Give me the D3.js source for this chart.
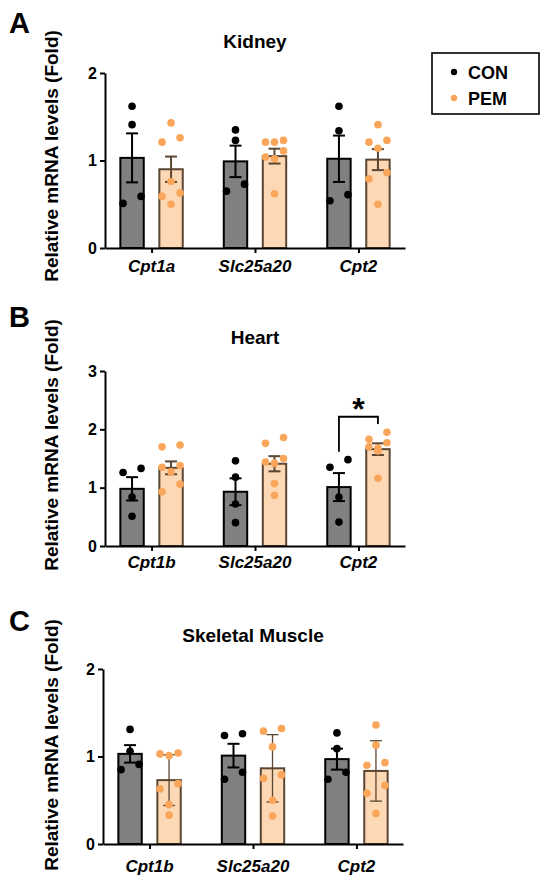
<!DOCTYPE html>
<html>
<head>
<meta charset="utf-8">
<script src="https://cdn.jsdelivr.net/npm/d3@7"></script>
<style>
  body { margin: 0; background: #fff; }
  text { font-family: Arial, "Liberation Sans", sans-serif; font-weight: bold; }
</style>
</head>
<body>
<div id="chart"></div>
<script>
// ---- data ----
var groups = ["CON", "PEM"];
var genesKidney = ["Cpt1a", "Slc25a20", "Cpt2"];
var genesOther = ["Cpt1b", "Slc25a20", "Cpt2"];

var kidneyConMean = [1.03, 0.99, 1.02];
var kidneyConErr  = [0.28, 0.18, 0.265];
var kidneyPemMean = [0.90, 1.05, 1.01];
var kidneyPemErr  = [0.145, 0.085, 0.12];
var kidneyConPts = [[1.62, 1.41, 0.59, 0.51], [1.35, 1.23, 0.73, 0.65], [1.62, 1.34, 0.61, 0.54]];
var kidneyPemPts = [[1.43, 1.26, 1.21, 0.76, 0.63, 0.59, 0.50],
                    [1.23, 1.21, 1.21, 1.11, 1.04, 1.02, 0.62],
                    [1.41, 1.23, 1.21, 1.14, 0.86, 0.79, 0.50]];

var heartConMean = [0.98, 0.93, 1.01];
var heartConErr  = [0.20, 0.23, 0.24];
var heartPemMean = [1.34, 1.41, 1.66];
var heartPemErr  = [0.11, 0.13, 0.10];
var heartConPts = [[1.33, 1.26, 0.84, 0.51], [1.46, 1.18, 0.72, 0.40], [1.48, 1.35, 0.84, 0.41]];
var heartPemPts = [[1.73, 1.70, 1.38, 1.35, 1.27, 1.06, 0.93],
                   [1.86, 1.76, 1.50, 1.44, 1.42, 1.07, 0.87],
                   [1.95, 1.83, 1.77, 1.70, 1.68, 1.63, 1.16]];

var muscleConMean = [1.03, 1.01, 0.97];
var muscleConErr  = [0.10, 0.135, 0.12];
var musclePemMean = [0.73, 0.865, 0.835];
var musclePemErr  = [0.29, 0.385, 0.345];
var muscleConPts = [[1.31, 1.06, 0.91, 0.85], [1.26, 1.24, 0.82, 0.74], [1.27, 1.09, 0.82, 0.74]];
var musclePemPts = [[1.04, 1.03, 1.01, 0.69, 0.63, 0.45, 0.33],
                    [1.32, 1.29, 1.11, 0.79, 0.75, 0.50, 0.32],
                    [1.36, 1.13, 0.93, 0.90, 0.67, 0.58, 0.35]];

// significance bracket on heart Cpt2 (data units)
var sigLeft = 1.615, sigTop = 2.216, sigRight = 2.09;

// ---- styles ----
var conFill = "#808080", conLine = "#000000", conDot = "#000000";
var pemFill = "#FDD8B5", pemLine = "#5A4632", pemDot = "#F9A65B";

var panels = [
  {letter: "A", title: "Kidney", genes: genesKidney, ymax: 2,
   mean: [kidneyConMean, kidneyPemMean], err: [kidneyConErr, kidneyPemErr], pts: [kidneyConPts, kidneyPemPts],
   left: 105, top: 73, letterY: 33, titleY: 48, geneY: 272, labelY: 156, pemErrW: 2},
  {letter: "B", title: "Heart", genes: genesOther, ymax: 3,
   mean: [heartConMean, heartPemMean], err: [heartConErr, heartPemErr], pts: [heartConPts, heartPemPts],
   left: 105, top: 371, letterY: 327, titleY: 344, geneY: 568, labelY: 445, pemErrW: 2, sig: true},
  {letter: "C", title: "Skeletal Muscle", genes: genesOther, ymax: 2,
   mean: [muscleConMean, musclePemMean], err: [muscleConErr, musclePemErr], pts: [muscleConPts, musclePemPts],
   left: 103, top: 669, letterY: 631, titleY: 642, geneY: 872, labelY: 745, pemErrW: 1.3}
];

var plotW = 300, plotH = 175;

var svg = d3.select("#chart")
  .append("svg")
    .attr("width", 550)
    .attr("height", 886);

// spread points of a column the way prism does: rows of up to 3
function swarm(values, y) {
  var sorted = values.slice().sort(function (a, b) { return b - a; });
  var rows = [];
  sorted.forEach(function (v) {
    var last = rows[rows.length - 1];
    if (last && last.length < 3 && y(v) - y(last[0]) < 8) last.push(v);
    else rows.push([v]);
  });
  var pattern = {1: [0], 2: [1, -1], 3: [1, -1, 0]};
  var out = [];
  rows.forEach(function (r) {
    r.forEach(function (v, i) { out.push({v: v, dx: pattern[r.length][i] * 9}); });
  });
  return out;
}

panels.forEach(function (p) {
  var g = svg.append("g");

  var x = d3.scalePoint()
    .domain(p.genes)
    .range([p.left, p.left + plotW])
    .padding(0.45);
  var xSub = d3.scaleBand()
    .domain(groups)
    .range([-39, 39])
    .paddingInner(0.4)
    .paddingOuter(0.2);
  var y = d3.scaleLinear()
    .domain([0, p.ymax])
    .range([p.top + plotH, p.top]);

  // bars
  groups.forEach(function (grp, gi) {
    g.selectAll(".bar-" + grp)
      .data(p.genes)
      .enter().append("rect")
        .attr("x", function (d) { return x(d) + xSub(grp); })
        .attr("width", xSub.bandwidth())
        .attr("y", function (d, i) { return y(p.mean[gi][i]); })
        .attr("height", function (d, i) { return y(0) - y(p.mean[gi][i]); })
        .attr("fill", gi === 0 ? conFill : pemFill)
        .attr("stroke", gi === 0 ? conLine : pemLine)
        .attr("stroke-width", 2);
  });

  // error bars
  groups.forEach(function (grp, gi) {
    var col = gi === 0 ? conLine : pemLine;
    var lw = gi === 0 ? 2 : p.pemErrW;
    p.genes.forEach(function (gene, i) {
      var cx = x(gene) + xSub(grp) + xSub.bandwidth() / 2;
      var m = p.mean[gi][i], e = p.err[gi][i];
      g.append("line")
        .attr("x1", cx).attr("x2", cx)
        .attr("y1", y(m - e)).attr("y2", y(m + e))
        .attr("stroke", col).attr("stroke-width", lw);
      [m - e, m + e].forEach(function (v) {
        g.append("line")
          .attr("x1", cx - 6).attr("x2", cx + 6)
          .attr("y1", y(v)).attr("y2", y(v))
          .attr("stroke", col).attr("stroke-width", lw);
      });
    });
  });

  // individual points
  groups.forEach(function (grp, gi) {
    p.genes.forEach(function (gene, i) {
      var cx = x(gene) + xSub(grp) + xSub.bandwidth() / 2;
      g.selectAll(null)
        .data(swarm(p.pts[gi][i], y))
        .enter().append("circle")
          .attr("cx", function (d) { return cx + d.dx; })
          .attr("cy", function (d) { return y(d.v); })
          .attr("r", 3.8)
          .attr("fill", gi === 0 ? conDot : pemDot);
    });
  });

  // axes
  var yAxis = g.append("g")
    .attr("transform", "translate(" + p.left + ",0)")
    .call(d3.axisLeft(y).ticks(p.ymax).tickFormat(d3.format("d"))
      .tickSize(5).tickSizeOuter(0).tickPadding(3));
  var xAxis = g.append("g")
    .attr("transform", "translate(0," + y(0) + ")")
    .call(d3.axisBottom(x).tickFormat("").tickSize(5).tickSizeOuter(0));
  [yAxis, xAxis].forEach(function (a) {
    a.select(".domain").attr("stroke", "#000").attr("stroke-width", 2);
    a.selectAll(".tick line").attr("stroke", "#000").attr("stroke-width", 2);
  });
  yAxis.selectAll(".tick text")
    .style("font-size", "16px")
    .attr("fill", "#000");

  // gene names
  g.selectAll(".gene")
    .data(p.genes)
    .enter().append("text")
      .attr("x", function (d) { return x(d); })
      .attr("y", p.geneY)
      .attr("text-anchor", "middle")
      .style("font-style", "italic")
      .style("font-size", "17px")
      .text(function (d) { return d; });

  // titles and labels
  g.append("text")
    .attr("x", p.left + 150)
    .attr("y", p.titleY)
    .attr("text-anchor", "middle")
    .style("font-size", "19px")
    .text(p.title);

  g.append("text")
    .attr("x", 9)
    .attr("y", p.letterY)
    .style("font-size", "29px")
    .text(p.letter);

  g.append("text")
    .attr("transform", "translate(58," + p.labelY + ") rotate(-90)")
    .attr("text-anchor", "middle")
    .style("font-size", "19px")
    .text("Relative mRNA levels (Fold)");

  if (p.sig) {
    var xl = x("Cpt2") + xSub("CON") + xSub.bandwidth() / 2;
    var xr = x("Cpt2") + xSub("PEM") + xSub.bandwidth() / 2;
    g.append("path")
      .attr("d", "M" + xl + "," + y(sigLeft) + "V" + y(sigTop) + "H" + xr + "V" + y(sigRight))
      .attr("fill", "none")
      .attr("stroke", "#000")
      .attr("stroke-width", 1.8);
    g.append("text")
      .attr("x", (xl + xr) / 2)
      .attr("y", y(sigTop) + 3)
      .attr("text-anchor", "middle")
      .style("font-size", "32px")
      .text("*");
  }
});

// legend
var legend = svg.append("g");
legend.append("rect")
  .attr("x", 432).attr("y", 53)
  .attr("width", 107).attr("height", 61)
  .attr("fill", "none")
  .attr("stroke", "#000")
  .attr("stroke-width", 1.6);
legend.selectAll(".item")
  .data(groups)
  .enter().append("g")
    .attr("transform", function (d, i) { return "translate(0," + (72 + i * 26) + ")"; })
    .each(function (d, i) {
      var it = d3.select(this);
      it.append("circle")
        .attr("cx", 454).attr("cy", 0).attr("r", 3.2)
        .attr("fill", i === 0 ? conDot : pemDot);
      it.append("text")
        .attr("x", 468).attr("y", 6.5)
        .style("font-size", "18px")
        .text(d);
    });
</script>
</body>
</html>
